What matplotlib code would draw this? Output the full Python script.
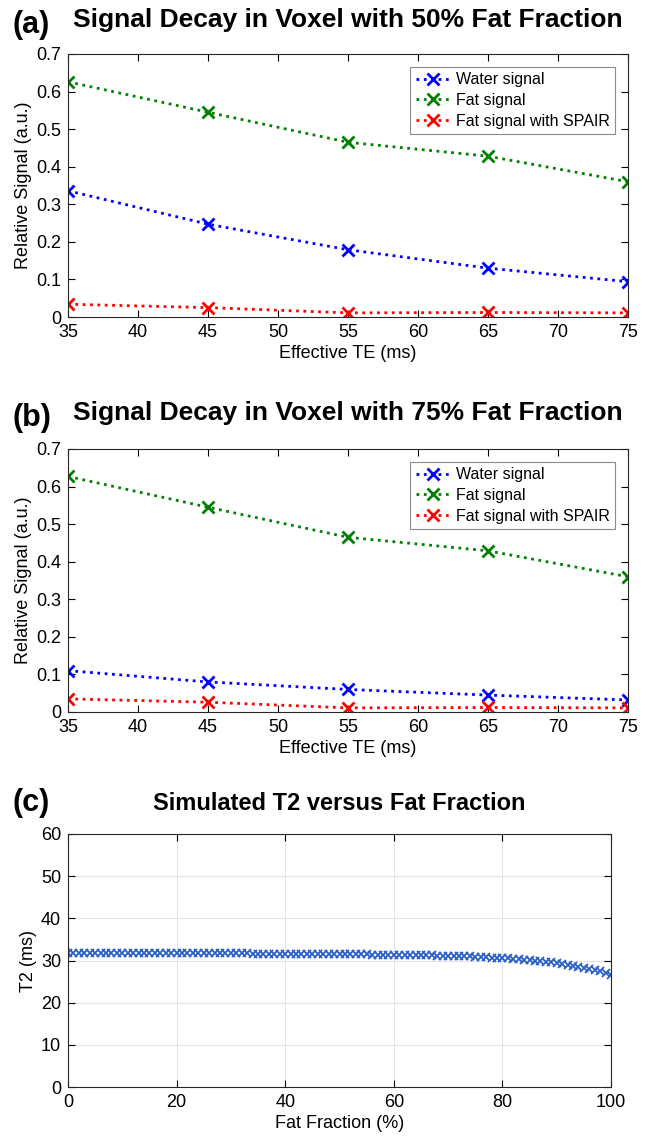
import numpy as np
import matplotlib
matplotlib.use("Agg")
import matplotlib.pyplot as plt

plt.rcParams['font.family'] = ['Liberation Sans', 'DejaVu Sans']

# echo times for panels (a) and (b)
te = [35, 45, 55, 65, 75]

# panel (a): 50% fat fraction
water_50 = [0.336, 0.247, 0.179, 0.130, 0.094]
fat_50 = [0.626, 0.545, 0.465, 0.428, 0.360]
spair_50 = [0.034, 0.025, 0.011, 0.012, 0.011]

# panel (b): 75% fat fraction
water_75 = [0.110, 0.080, 0.060, 0.045, 0.032]
fat_75 = [0.627, 0.545, 0.465, 0.429, 0.360]
spair_75 = [0.035, 0.026, 0.011, 0.012, 0.011]

# panel (c): simulated T2 vs fat fraction
fat_fraction = list(range(0, 101))
t2 = [31.8, 31.8, 31.8, 31.8, 31.8, 31.8, 31.8, 31.8, 31.8, 31.8,
      31.8, 31.8, 31.8, 31.8, 31.8, 31.8, 31.8, 31.8, 31.8, 31.8,
      31.8, 31.8, 31.8, 31.8, 31.8, 31.8, 31.8, 31.8, 31.8, 31.8,
      31.8, 31.8, 31.8, 31.8, 31.5, 31.5, 31.5, 31.5, 31.5, 31.5,
      31.5, 31.5, 31.5, 31.5, 31.5, 31.5, 31.5, 31.5, 31.5, 31.5,
      31.5, 31.5, 31.5, 31.5, 31.5, 31.5, 31.3, 31.3, 31.3, 31.3,
      31.3, 31.3, 31.3, 31.3, 31.3, 31.3, 31.3, 31.3, 31.0, 31.0,
      31.0, 31.0, 31.0, 31.0, 31.0, 30.8, 30.8, 30.75, 30.7, 30.65,
      30.55, 30.5, 30.4, 30.3, 30.2, 30.1, 30.0, 29.85, 29.7, 29.55,
      29.4, 29.2, 29.0, 28.8, 28.55, 28.3, 28.0, 27.7, 27.4, 27.0,
      26.6]

labels = ['Water signal', 'Fat signal', 'Fat signal with SPAIR']
colors = [(0, 0, 1), (0, 0.5, 0), (1, 0, 0)]

W, H = 648, 1137
fig = plt.figure(figsize=(W / 100, H / 100), dpi=100)


def box(l, t, r, b):
    return [l / W, 1 - b / H, (r - l) / W, (b - t) / H]


def style(ax):
    ax.tick_params(direction='in', top=True, right=True, labelsize=13,
                   length=5, width=0.8, pad=5)
    for s in ax.spines.values():
        s.set_linewidth(0.8)
        s.set_color('#262626')


def decay_panel(rect, water, fat, spair, letter, title, ty):
    ax = fig.add_axes(rect)
    for vals, lab, c in zip([water, fat, spair], labels, colors):
        ax.plot(te, vals, ':', color=c, lw=2, marker='x', ms=8, mew=2,
                label=lab)
    ax.set_xlim(35, 75)
    ax.set_ylim(0, 0.7)
    ax.set_xticks(np.arange(35, 76, 5))
    ax.set_yticks(np.arange(0, 0.71, 0.1))
    ax.set_yticklabels(['0', '0.1', '0.2', '0.3', '0.4', '0.5', '0.6', '0.7'])
    ax.set_xlabel('Effective TE (ms)', fontsize=13, labelpad=3)
    ax.set_ylabel('Relative Signal (a.u.)', fontsize=13, labelpad=3)
    style(ax)
    leg = ax.legend(loc='upper right', fontsize=11.5, fancybox=False,
                    framealpha=1, edgecolor='#8c8c8c', handlelength=2.2,
                    handletextpad=0.3, borderpad=0.35, labelspacing=0.35,
                    borderaxespad=0.8)
    leg.get_frame().set_linewidth(0.8)
    fig.text(13 / W, 1 - (ty + 5) / H, letter, fontsize=22, fontweight='bold',
             va='center', ha='left')
    fig.text((rect[0] + rect[2] / 2), 1 - ty / H, title, fontsize=19,
             fontweight='bold', va='center', ha='center')
    return ax


decay_panel(box(68, 54, 628, 317), water_50, fat_50, spair_50, '(a)',
            'Signal Decay in Voxel with 50% Fat Fraction', 20)
decay_panel(box(68, 449, 628, 712), water_75, fat_75, spair_75, '(b)',
            'Signal Decay in Voxel with 75% Fat Fraction', 413)

rc = box(68, 834, 611, 1087)
ax = fig.add_axes(rc)
ax.plot(fat_fraction, t2, 'x', color='#2a5fc8', ms=6, mew=1.3,
        linestyle='none')
ax.set_xlim(0, 100)
ax.set_ylim(0, 60)
ax.set_xticks(np.arange(0, 101, 20))
ax.set_yticks(np.arange(0, 61, 10))
ax.grid(True, color='#e3e3e3', lw=0.8)
ax.set_axisbelow(True)
ax.set_xlabel('Fat Fraction (%)', fontsize=13, labelpad=3)
ax.set_ylabel('T2 (ms)', fontsize=13, labelpad=3)
style(ax)
fig.text(13 / W, 1 - 803 / H, '(c)', fontsize=22, fontweight='bold',
         va='center', ha='left')
fig.text(rc[0] + rc[2] / 2, 1 - 803 / H, 'Simulated T2 versus Fat Fraction',
         fontsize=17, fontweight='bold', va='center', ha='center')

fig.savefig('out.png', dpi=100)
